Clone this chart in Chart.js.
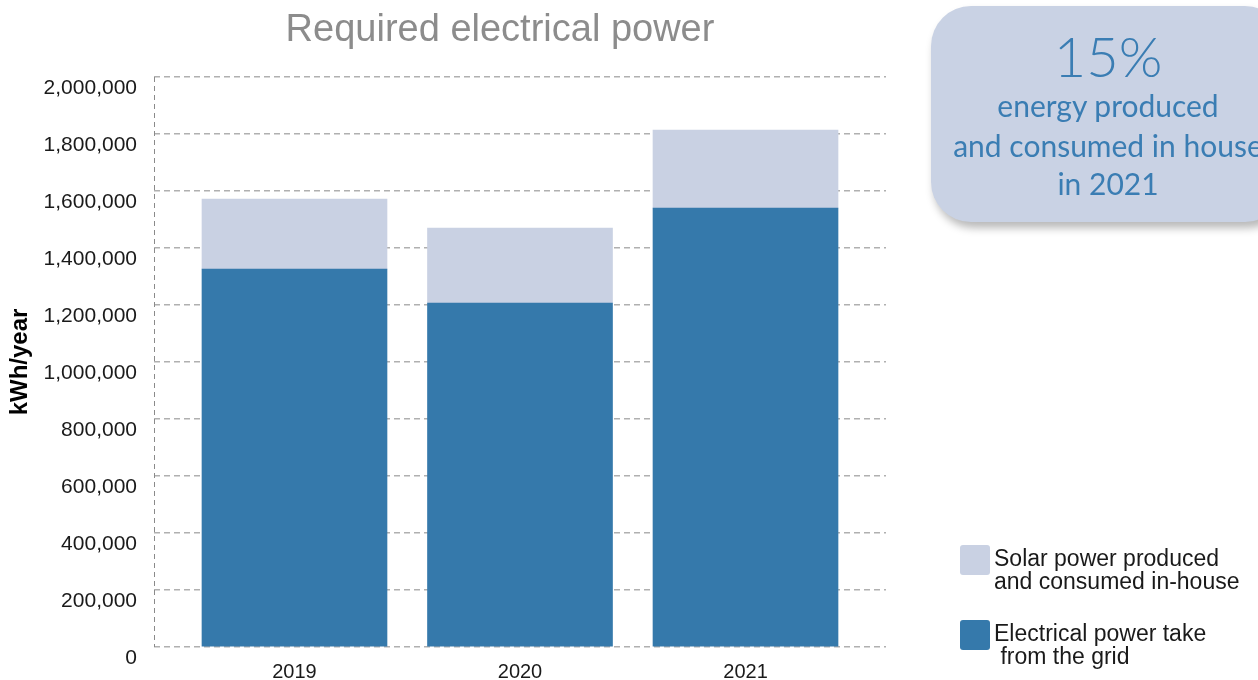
<!DOCTYPE html>
<html>
<head>
<meta charset="utf-8">
<script src="https://cdn.jsdelivr.net/npm/chart.js@4"></script>
<style>
  html, body { margin: 0; padding: 0; background: #fff; overflow: hidden; }
  #wrap { position: relative; width: 1258px; height: 680px; }
  #chart { position: absolute; left: 0; top: 0; }
  #callout {
    position: absolute; left: 931px; top: 6px; width: 354px; height: 216px;
    background: #c9d2e4; border-radius: 40px;
    box-shadow: 3px 6px 9px rgba(0, 0, 0, 0.28);
    color: #3a7db3; font-family: Lato, "Noto Sans", sans-serif; text-align: center;
  }
  #callout div { position: absolute; left: 0; width: 100%; white-space: nowrap; }
</style>
</head>
<body>
<div id="wrap">
  <canvas id="chart" width="1258" height="680"></canvas>
  <div id="callout"></div>
</div>
<script>
const title = "Required electrical power";
const years = [2019, 2020, 2021];
const gridPower = [1326000, 1207000, 1540000];
const solarPower = [246000, 263000, 274000];
const seriesNames = [
  ["Electrical power take", " from the grid"],
  ["Solar power produced", "and consumed in-house"],
];
const seriesColors = ["#3579ab", "#c9d1e3"];
const yTicks = { min: 0, max: 2000000, step: 200000 };
const calloutLines = ["15%", "energy produced", "and consumed in house", "in 2021"];

// callout box text
const callout = document.getElementById("callout");
[
  { top: 22, size: 56, weight: 300 },
  { top: 84, size: 30, weight: 400 },
  { top: 124, size: 30, weight: 400 },
  { top: 162, size: 30, weight: 400 },
].forEach((s, i) => {
  const d = document.createElement("div");
  d.textContent = calloutLines[i];
  d.style.top = s.top + "px";
  d.style.fontSize = s.size + "px";
  d.style.fontWeight = s.weight;
  d.style.lineHeight = "1";
  callout.appendChild(d);
});

const font = "'Liberation Sans', Arial, sans-serif";

const extras = {
  id: "extras",
  beforeDatasetsDraw(chart) {
    // dashed left axis line
    const { ctx, chartArea } = chart;
    ctx.save();
    ctx.strokeStyle = "#8a8a8a";
    ctx.lineWidth = 1;
    ctx.setLineDash([5, 4]);
    ctx.beginPath();
    ctx.moveTo(chartArea.left + 0.5, chartArea.top);
    ctx.lineTo(chartArea.left + 0.5, chartArea.bottom);
    ctx.stroke();
    ctx.restore();
  },
  afterDraw(chart) {
    const ctx = chart.ctx;
    ctx.save();
    ctx.fillStyle = "#8c8c8c";
    ctx.font = "38px " + font;
    ctx.textAlign = "center";
    ctx.textBaseline = "alphabetic";
    ctx.fillText(title, 500, 41);

    // legend, top entry is the upper stack
    const ds = chart.data.datasets.slice().reverse();
    const names = seriesNames.slice().reverse();
    ctx.font = "23px " + font;
    ctx.textAlign = "left";
    ctx.textBaseline = "middle";
    ds.forEach((d, i) => {
      const y0 = 545 + i * 75;
      ctx.fillStyle = d.backgroundColor;
      ctx.beginPath();
      ctx.roundRect(960, y0, 30, 30, 3);
      ctx.fill();
      ctx.fillStyle = "#1a1a1a";
      names[i].forEach((line, j) => ctx.fillText(line, 994, y0 + 15 + j * 23));
    });
    ctx.restore();
  },
};

new Chart(document.getElementById("chart"), {
  type: "bar",
  data: {
    datasets: [
      {
        label: seriesNames[0].join(" "),
        data: years.map((y, i) => ({ x: y, y: gridPower[i] })),
        backgroundColor: seriesColors[0],
        barThickness: 185,
      },
      {
        label: seriesNames[1].join(" "),
        data: years.map((y, i) => ({ x: y, y: solarPower[i] })),
        backgroundColor: seriesColors[1],
        barThickness: 185,
      },
    ],
  },
  options: {
    responsive: false,
    animation: false,
    layout: { padding: { top: 77, right: 372, left: 0, bottom: 0 } },
    plugins: { legend: { display: false }, tooltip: { enabled: false } },
    scales: {
      x: {
        type: "linear",
        stacked: true,
        offset: false,
        min: 2018.377,
        max: 2021.623,
        grid: { display: false, drawTicks: false },
        border: { display: false },
        ticks: {
          stepSize: 1,
          includeBounds: false,
          padding: 13,
          color: "#1a1a1a",
          font: { family: font, size: 20 },
          callback: (v) => (Number.isInteger(v) ? String(v) : ""),
        },
        afterFit: (s) => { s.height = 33; },
      },
      y: {
        stacked: true,
        min: yTicks.min,
        max: yTicks.max,
        grid: { color: "#b0b0b0", lineWidth: 1.5, drawTicks: false },
        border: { display: false, dash: [6, 4] },
        ticks: {
          stepSize: yTicks.step,
          padding: 17,
          labelOffset: 11,
          color: "#1a1a1a",
          font: { family: font, size: 21 },
          callback: (v) => v.toLocaleString("en-US"),
        },
        title: {
          display: true,
          text: "kWh/year",
          color: "#000",
          font: { family: font, size: 24, weight: "bold" },
          padding: { top: 6, bottom: 0 },
        },
        afterFit: (s) => { s.width = 154; },
      },
    },
  },
  plugins: [extras],
});
</script>
</body>
</html>
